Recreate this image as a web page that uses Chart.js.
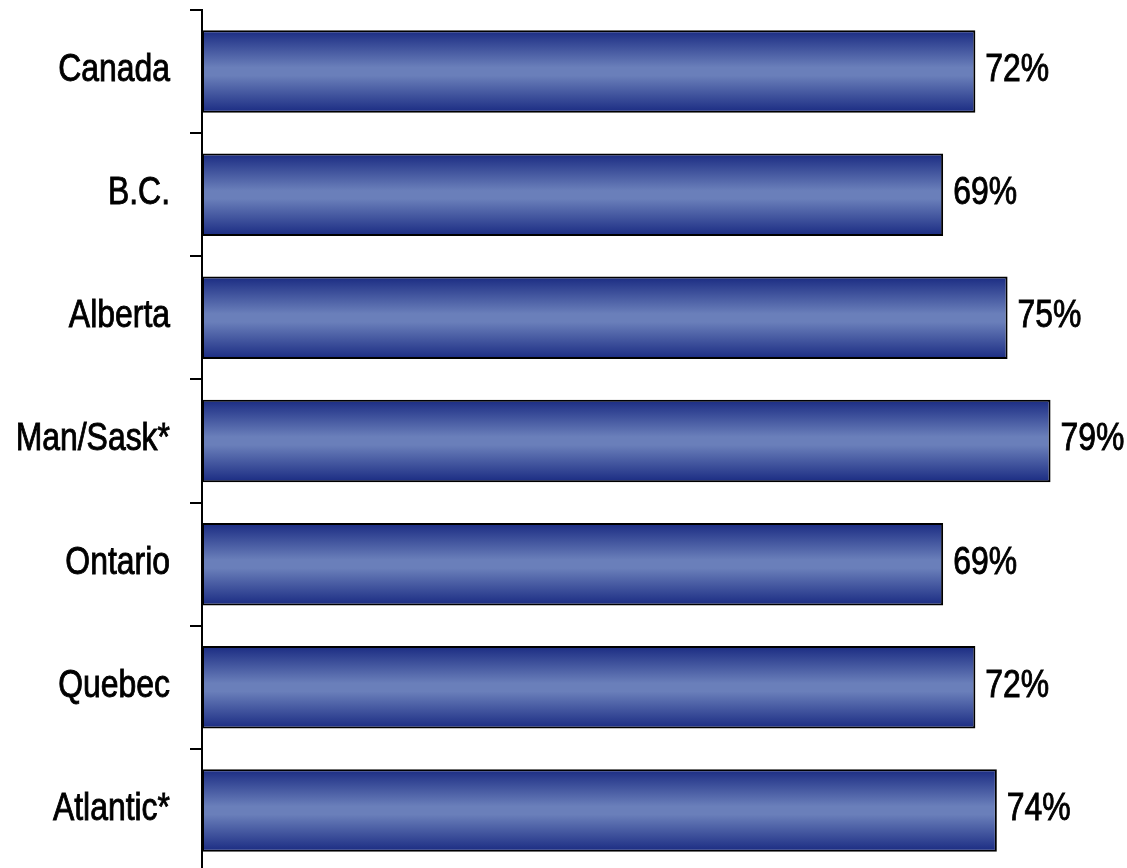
<!DOCTYPE html>
<html>
<head>
<meta charset="utf-8">
<script src="https://cdn.jsdelivr.net/npm/chart.js@4.4.1/dist/chart.umd.min.js"></script>
<style>
  html, body { margin: 0; padding: 0; background: #fff; overflow: hidden; }
  #wrap { position: relative; width: 1127px; height: 872px; }
</style>
</head>
<body>
<div id="wrap"><canvas id="chart"></canvas></div>
<script>
const regions = ['Canada', 'B.C.', 'Alberta', 'Man/Sask*', 'Ontario', 'Quebec', 'Atlantic*'];
const shares = [72, 69, 75, 79, 69, 72, 74];

const fontFamily = '"Liberation Sans", Arial, sans-serif';
const fontSize = 38;
const narrow = 0.84; // squeeze to look like Arial Narrow

// vertical shading inside each bar: dark edges, light middle
function barGradient(ctx) {
    const chart = ctx.chart;
    const y = chart.scales.y;
    if (!chart.chartArea || !y || !y.height) return '#3a4f9a';
    const center = y.getPixelForValue(ctx.dataIndex);
    const h = (y.height / regions.length) * 0.67;
    const g = chart.ctx.createLinearGradient(0, center - h / 2, 0, center + h / 2);
    g.addColorStop(0, '#1a2b82');
    g.addColorStop(0.45, '#6a7fba');
    g.addColorStop(0.55, '#6a7fba');
    g.addColorStop(1, '#1a2b82');
    return g;
}

// fill plus a thin stroke gives the slightly heavy look of the original
function narrowText(ctx, text, x, y, align) {
    ctx.save();
    ctx.translate(x, y);
    ctx.scale(narrow, 1);
    ctx.textAlign = align;
    ctx.fillText(text, 0, 0);
    ctx.lineWidth = 0.9;
    ctx.strokeText(text, 0, 0);
    ctx.restore();
}

const textLabels = {
    id: 'textLabels',
    afterDraw(chart) {
        const { ctx } = chart;
        const meta = chart.getDatasetMeta(0);
        const yScale = chart.scales.y;
        ctx.save();
        ctx.font = `${fontSize}px ${fontFamily}`;
        ctx.fillStyle = '#000';
        ctx.strokeStyle = '#000';
        ctx.textBaseline = 'middle';
        regions.forEach((r, i) => {
            narrowText(ctx, r, yScale.right - 32, yScale.getPixelForValue(i) - 1, 'right');
        });
        meta.data.forEach((bar, i) => {
            narrowText(ctx, shares[i] + '%', bar.x + 10, bar.y - 1, 'left');
        });
        ctx.restore();
    }
};

new Chart(document.getElementById('chart'), {
    type: 'bar',
    data: {
        labels: regions,
        datasets: [{
            data: shares,
            backgroundColor: barGradient,
            borderColor: '#000',
            borderWidth: 2,
            borderSkipped: false,
            barPercentage: 0.67,
            categoryPercentage: 1,
        }],
    },
    options: {
        indexAxis: 'y',
        responsive: true,
        maintainAspectRatio: false,
        animation: false,
        layout: { padding: { top: 10, right: 12, bottom: 0, left: 0 } },
        plugins: {
            legend: { display: false },
            tooltip: { enabled: false },
        },
        scales: {
            x: {
                display: false,
                min: 0,
                max: 85,
            },
            y: {
                afterFit(scale) {
                    scale.width = 202;
                    scale.paddingTop = 0;
                    scale.paddingBottom = 0;
                },
                grid: {
                    offset: true,
                    drawOnChartArea: false,
                    tickLength: 12,
                    color: '#000',
                    lineWidth: 2,
                },
                border: { color: '#000', width: 2 },
                ticks: { display: false },
            },
        },
    },
    plugins: [textLabels],
});
</script>
</body>
</html>
